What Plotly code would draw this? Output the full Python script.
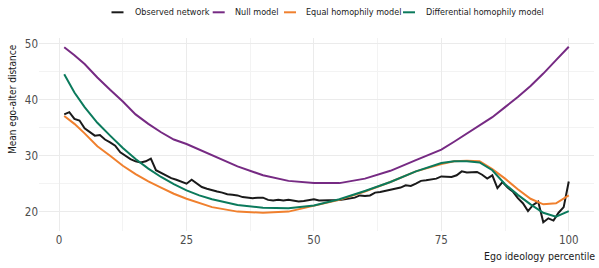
import plotly.graph_objects as go

# ---------------- data ----------------
model_pct = [1, 3, 5, 7.5, 10, 12.5, 15, 17.5, 20, 22.5, 25, 27.5, 30, 35, 40, 45, 50,
             55, 60, 65, 70, 75, 77.5, 80, 82.5, 85, 87.5, 90, 92.5, 95, 97.5, 100]

null_model = [49.4, 48.0, 46.4, 44.0, 41.8, 39.7, 37.4, 35.7, 34.2, 32.9, 32.1, 31.1, 30.2,
              28.1, 26.5, 25.5, 25.1, 25.1, 25.9, 27.3, 29.2, 31.1, 32.5, 34.0, 35.4, 36.9,
              38.7, 40.5, 42.5, 44.7, 47.1, 49.5]

differential_model = [44.6, 41.3, 38.7, 35.9, 33.6, 31.4, 29.4, 27.7, 26.2, 24.9, 23.8, 22.9,
                      22.2, 21.2, 20.7, 20.6, 21.1, 22.2, 23.7, 25.3, 27.2, 28.7, 29.0, 29.0,
                      28.8, 27.4, 24.9, 23.0, 21.3, 19.8, 19.1, 20.1]

equal_model = [37.1, 35.7, 34.0, 31.7, 30.0, 28.2, 26.7, 25.4, 24.3, 23.2, 22.3, 21.5, 20.8,
               20.0, 19.8, 20.0, 21.0, 22.1, 23.6, 25.3, 27.2, 28.5, 29.0, 29.1, 29.0, 27.6,
               25.9, 24.0, 22.3, 21.3, 21.5, 22.9]

observed_pct = list(range(1, 101))
observed = [37.4, 37.8, 36.6, 36.3, 34.9, 34.3, 33.6, 33.7, 32.9, 32.4,
            31.8, 30.6, 30.0, 29.4, 29.0, 28.8, 29.0, 29.5, 27.4, 26.9,
            26.5, 26.0, 25.7, 25.4, 25.0, 25.7, 25.0, 24.4, 24.1, 23.8,
            23.6, 23.4, 23.1, 23.0, 22.9, 22.6, 22.5, 22.4, 22.5, 22.5,
            22.1, 22.0, 22.1, 22.0, 22.1, 22.0, 21.8, 21.9, 22.0, 22.2,
            22.0, 22.0, 22.1, 22.0, 22.1, 22.2, 22.4, 22.5, 22.9, 22.8,
            22.9, 23.4, 23.5, 23.7, 23.9, 24.1, 24.3, 24.7, 24.6, 25.0,
            25.5, 25.6, 25.7, 25.9, 26.3, 26.3, 26.2, 26.5, 27.2, 27.0,
            27.0, 27.1, 26.6, 25.9, 26.5, 24.2, 25.3, 24.3, 23.6, 22.4,
            21.5, 20.1, 21.2, 21.8, 18.1, 18.8, 18.4, 19.8, 20.8, 25.4]

series_names = ["Observed network", "Null model", "Equal homophily model",
                "Differential homophily model"]
series_colors = ["#1A1A1A", "#762A83", "#F0802E", "#0B7A5C"]

x_ticks = [0, 25, 50, 75, 100]
y_ticks = [20, 30, 40, 50]

# ---------------- figure ----------------
FONT = "DejaVu Sans Condensed, Roboto Condensed, Liberation Sans, sans-serif"
W, H = 599, 268
L, R, T, B = 39, 5, 38, 37

fig = go.Figure()
series = [(observed_pct, observed), (model_pct, null_model),
          (model_pct, equal_model), (model_pct, differential_model)]
for (xs, ys), name, col in zip(series, series_names, series_colors):
    fig.add_trace(go.Scatter(x=xs, y=ys, mode="lines", name=name,
                             line=dict(color=col, width=2), showlegend=False))

xmin, xmax = 1 - 0.05 * 99, 100 + 0.05 * 99
allv = observed + null_model + equal_model + differential_model
vmin, vmax = min(allv), max(allv)
pad = 0.05 * (vmax - vmin)

fig.update_layout(
    width=W, height=H,
    margin=dict(l=L, r=R, t=T, b=B),
    paper_bgcolor="white", plot_bgcolor="white",
    font=dict(family=FONT, size=11, color="#4D4D4D"),
    xaxis=dict(range=[xmin, xmax], tickvals=x_ticks, showgrid=True,
               gridcolor="#EBEBEB", gridwidth=1, zeroline=False, showline=False,
               ticks="", tickfont=dict(size=11.5, color="#4D4D4D"),
               minor=dict(tickvals=[12.5, 37.5, 62.5, 87.5], showgrid=True,
                          gridcolor="#F3F3F3", gridwidth=1)),
    yaxis=dict(range=[vmin - pad, vmax + pad], tickvals=y_ticks, showgrid=True,
               gridcolor="#EBEBEB", gridwidth=1, zeroline=False, showline=False,
               ticks="", tickfont=dict(size=11.5, color="#4D4D4D"),
               minor=dict(tickvals=[25, 35, 45], showgrid=True,
                          gridcolor="#F3F3F3", gridwidth=1)),
)

pw, ph = W - L - R, H - T - B
def px(xp):
    return (xp - L) / pw
def py(yp):
    return (H - B - yp) / ph

annotations = [
    dict(text="Ego ideology percentile", xref="paper", yref="paper", x=1.0 + 3 / pw,
         y=py(256), xanchor="right", yanchor="middle", showarrow=False,
         font=dict(family=FONT, size=10.5, color="#1A1A1A")),
    dict(text="Mean ego-alter distance", xref="paper", yref="paper", x=px(12), y=1.0 - 4 / ph,
         xanchor="center", yanchor="top", textangle=-90, showarrow=False,
         font=dict(family=FONT, size=10, color="#1A1A1A")),
]
shapes = []
key_x = [111.5, 212.7, 284.0, 403.0]
text_x = [132.5, 233.0, 304.0, 424.0]
for name, col, kx, tx in zip(series_names, series_colors, key_x, text_x):
    shapes.append(dict(type="line", xref="paper", yref="paper", x0=px(kx), x1=px(kx + 12),
                       y0=py(12.3), y1=py(12.3), line=dict(color=col, width=2)))
    annotations.append(dict(text=name, xref="paper", yref="paper", x=px(tx), y=py(12.3),
                            xanchor="left", yanchor="middle", showarrow=False,
                            font=dict(family=FONT, size=9, color="#1A1A1A")))
fig.update_layout(annotations=annotations, shapes=shapes)

fig.write_html("out.html")
